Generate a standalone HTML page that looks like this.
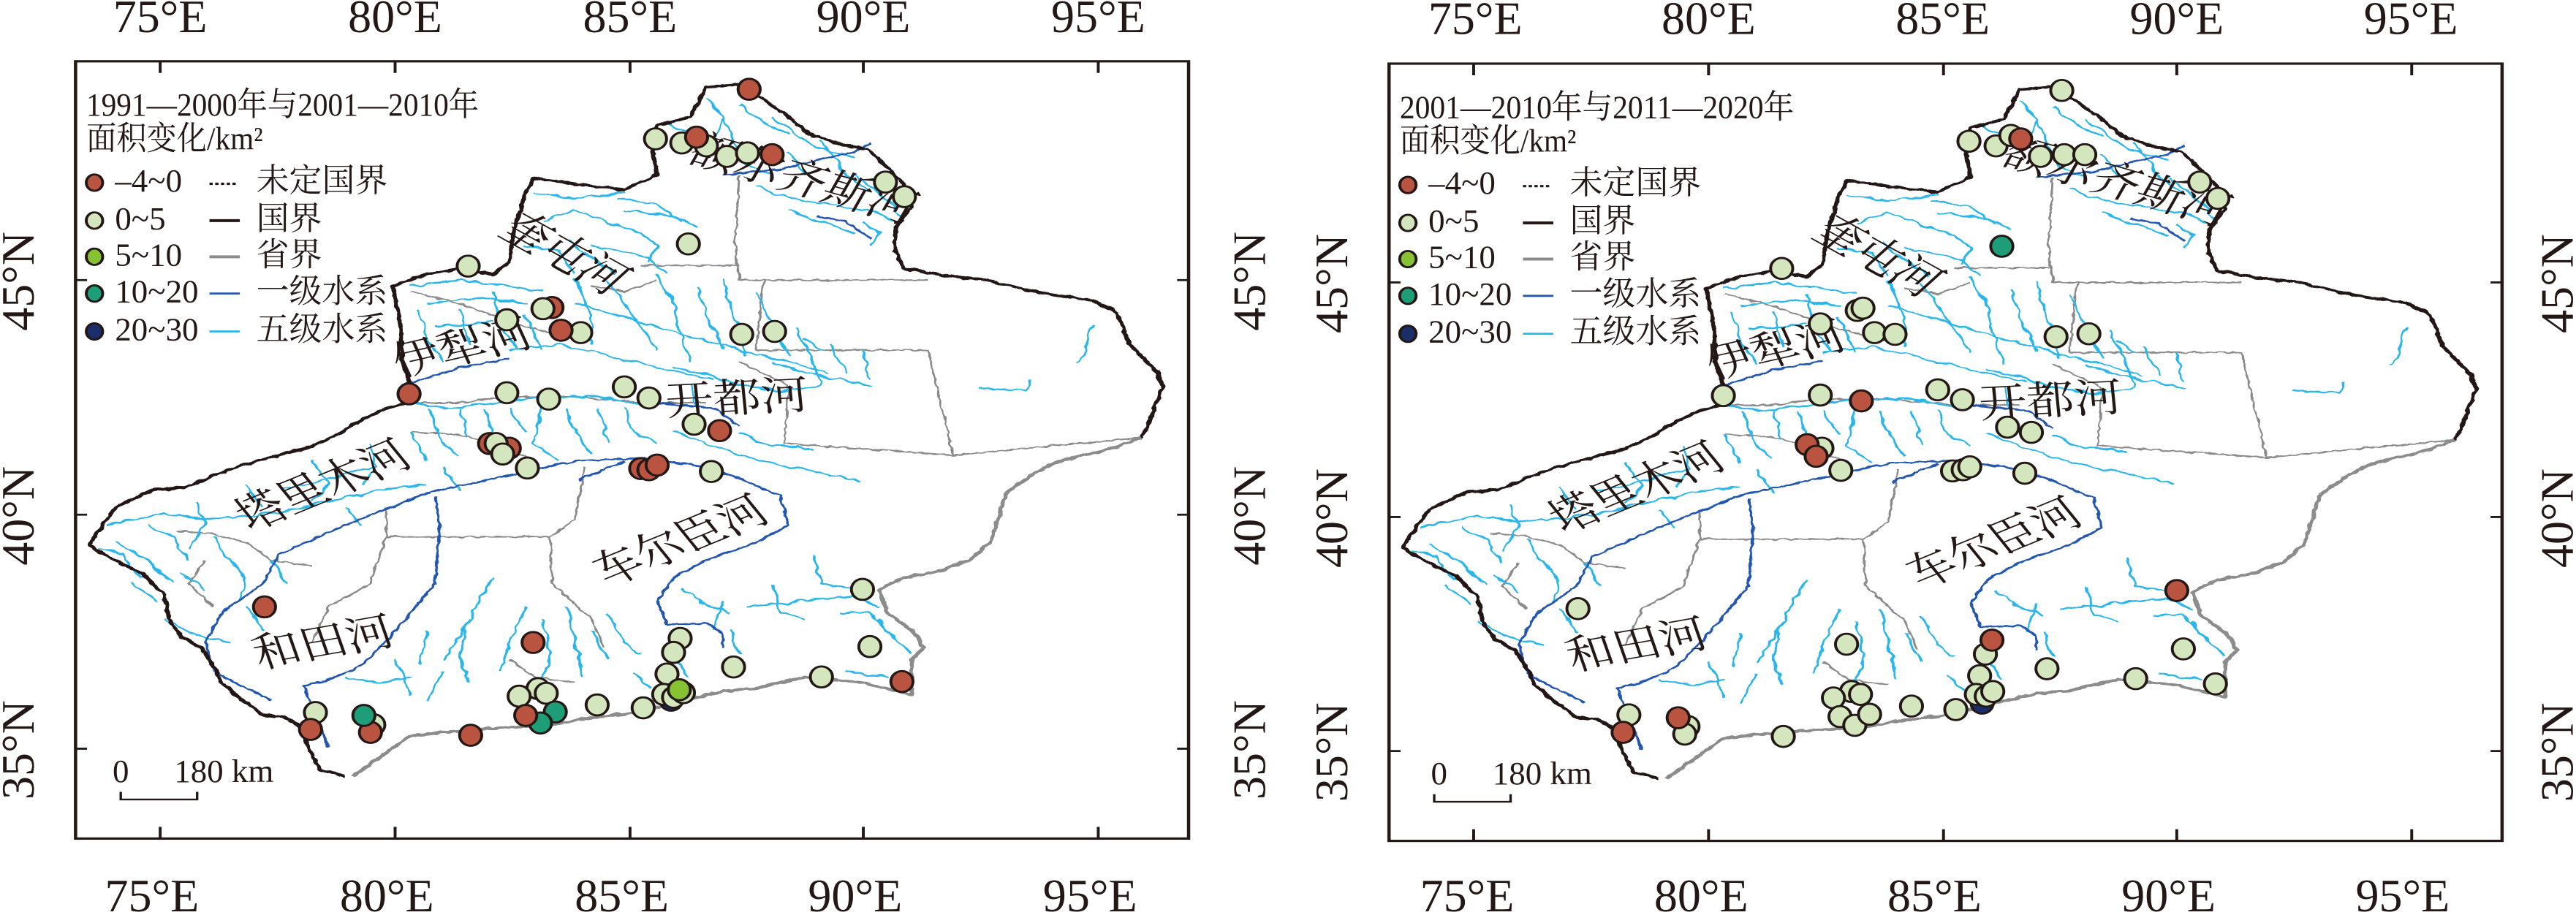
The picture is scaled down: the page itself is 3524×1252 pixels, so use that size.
<!DOCTYPE html>
<html><head><meta charset="utf-8"><style>
html,body{margin:0;padding:0;background:#fff;}
svg{display:block;}
text{font-family:"Liberation Serif","Noto Serif CJK SC",serif;fill:#231815;}
.ax{font-size:57px;}
.lg{font-size:40px;}
.rv{font-size:58px;}
</style></head><body>
<svg width="3524" height="1252" viewBox="0 0 3136 1568" preserveAspectRatio="none" xmlns="http://www.w3.org/2000/svg">
<defs>
<filter id="wig" x="-5%" y="-5%" width="110%" height="110%">
 <feTurbulence type="fractalNoise" baseFrequency="0.06" numOctaves="2" seed="3"/>
 <feDisplacementMap in="SourceGraphic" scale="10" xChannelSelector="R" yChannelSelector="G"/>
</filter>
<filter id="wig2" x="-5%" y="-5%" width="110%" height="110%">
 <feTurbulence type="fractalNoise" baseFrequency="0.09" numOctaves="2" seed="7"/>
 <feDisplacementMap in="SourceGraphic" scale="6" xChannelSelector="R" yChannelSelector="G"/>
</filter>
<g id="map">
 <!-- province / internal borders -->
 <g fill="none" stroke="#8a8a8a" stroke-width="2.5" filter="url(#wig2)">
  <path d="M900,300 L895,420 L900,480 L1130,480"/>
  <path d="M780,455 L900,455"/>
  <path d="M930,480 L920,600 L1130,600 L1160,780 L1390,750"/>
  <path d="M900,620 L960,660 L955,760 L1160,780"/>
  <path d="M470,870 L470,920 L670,920 L700,890 L712,800"/>
  <path d="M670,920 L672,1000 L720,1060 L735,1110"/>
  <path d="M500,690 L560,690 L620,680 L700,680 L780,690 L860,690"/>
  <path d="M500,740 L560,745 L600,760 L650,790"/>
  <path d="M470,920 L450,1000 L400,1040 L380,1100"/>
  <path d="M215,910 L260,915 L300,930 L330,960 L380,970"/>
  <path d="M720,490 L760,500 L800,480"/>
  <path d="M620,1130 L650,1160 L700,1170"/>
  <path d="M500,500 L560,520 L600,540 L640,560 L700,580"/>
  <path d="M250,960 L230,1000 L260,1040"/>
 </g>
 <!-- light rivers (5th level) -->
 <g fill="none" stroke="#2bb6ea" stroke-width="2.8" stroke-linejoin="round" filter="url(#wig)">
  <path d="M860,170 L880,200 L870,240"/><path d="M900,180 L930,210 L960,230"/>
  <path d="M940,200 L990,250 L1040,270"/><path d="M1000,240 L1030,300 L1060,330"/>
  <path d="M920,320 L960,340 L1010,350 L1060,360 L1090,380"/><path d="M1040,300 L1080,340 L1100,380"/>
  <path d="M810,210 L840,230"/><path d="M960,260 L980,300"/><path d="M880,200 L905,280 L940,300"/>
  <path d="M1050,380 L1070,400 L1060,420"/><path d="M960,360 L1000,380 L1040,400"/>
  <path d="M650,330 L700,340 L760,330"/><path d="M660,380 L700,360 L740,380 L780,400"/>
  <path d="M760,360 L820,370 L850,390"/><path d="M690,410 L720,440 L750,470"/>
  <path d="M720,420 L790,440 L810,470"/><path d="M750,340 L800,350 L830,380"/>
  <path d="M640,420 L680,430 L700,470"/><path d="M780,400 L800,420 L790,450"/>
  <path d="M500,490 L560,480 L620,490 L660,500"/><path d="M520,520 L580,510 L640,520"/>
  <path d="M530,560 L600,550"/><path d="M740,480 L760,520 L780,560 L800,600"/>
  <path d="M800,470 L820,520 L830,580 L840,620"/><path d="M850,490 L860,540 L880,600"/>
  <path d="M880,480 L890,530 L900,560 L910,610"/><path d="M920,500 L940,560 L960,610"/>
  <path d="M970,560 L990,620 L1000,660"/><path d="M1010,590 L1030,640"/><path d="M1050,600 L1060,650"/>
  <path d="M700,520 L750,540 L800,560 L850,580 L900,600 L960,620 L1010,640"/>
  <path d="M620,600 L680,590 L740,610 L800,630 L870,650"/>
  <path d="M510,530 L520,580 L540,620"/><path d="M560,530 L570,590"/><path d="M600,500 L610,560 L630,600"/>
  <path d="M640,540 L660,600"/><path d="M700,480 L720,540 L720,590"/>
  <path d="M940,620 L980,640 L1060,660"/><path d="M980,580 L1000,600"/>
  <path d="M1190,665 L1250,670 L1255,650"/><path d="M1330,555 L1320,610 L1310,620"/>
  <path d="M500,690 L550,700 L600,690 L660,680 L720,680 L780,690"/>
  <path d="M560,700 L570,750"/><path d="M620,700 L640,740"/><path d="M660,690 L650,760 L680,790"/>
  <path d="M730,700 L740,760"/><path d="M760,700 L770,740 L800,760"/>
  <path d="M520,700 L540,760 L560,780"/><path d="M590,700 L600,740 L590,770"/>
  <path d="M690,700 L700,740 L720,780"/><path d="M540,800 L560,840"/>
  <path d="M820,740 L860,760 L900,780 L960,800 L1050,825"/><path d="M900,740 L930,760 L990,770"/>
  <path d="M820,630 L860,640 L900,660 L950,670 L1000,660"/><path d="M840,660 L850,700"/>
  <path d="M500,740 L520,790"/><path d="M450,760 L460,800 L440,830"/><path d="M380,790 L400,830 L380,860"/>
  <path d="M300,830 L320,870"/><path d="M240,860 L250,900 L230,940"/><path d="M180,900 L210,920 L230,960"/>
  <path d="M140,930 L180,960 L210,1000"/><path d="M260,920 L280,960 L300,990 L290,1030"/>
  <path d="M220,980 L250,1010"/><path d="M200,1060 L240,1090 L280,1100"/><path d="M330,960 L350,1000"/>
  <path d="M130,900 L200,880 L260,890 L330,880 L400,860 L460,840 L520,830"/>
  <path d="M340,840 L400,820 L460,800"/><path d="M160,1000 L190,1030"/><path d="M300,1040 L320,1080"/>
  <path d="M120,940 L150,950 L170,990"/><path d="M420,870 L440,900"/>
  <path d="M600,990 L580,1040 L560,1090 L540,1130"/><path d="M640,1040 L620,1100 L610,1150"/>
  <path d="M660,1060 L670,1120 L660,1170"/><path d="M690,1040 L700,1100 L710,1160"/>
  <path d="M720,1080 L740,1130"/><path d="M740,1050 L760,1100 L780,1120"/>
  <path d="M570,1060 L560,1120 L570,1170"/><path d="M520,1080 L510,1140"/>
  <path d="M540,1150 L520,1200"/><path d="M480,1130 L500,1190"/><path d="M500,1160 L460,1170 L420,1160"/>
  <path d="M880,1030 L870,1080"/><path d="M940,1000 L950,1050 L980,1060"/>
  <path d="M990,950 L1000,1000 L1040,1010"/><path d="M1020,1050 L1060,1050 L1080,1080"/>
  <path d="M830,1010 L860,1040 L890,1050"/><path d="M1030,1150 L1080,1160"/><path d="M890,1080 L900,1120"/>
  <path d="M820,1130 L840,1160"/><path d="M770,1150 L790,1180"/>
  <path d="M910,1040 L980,1030 L1040,1020 L1070,1040"/><path d="M1070,1060 L1090,1100 L1110,1120"/>
 </g>
 <!-- first level rivers -->
 <g fill="none" stroke="#2457b0" stroke-width="3.2" stroke-linejoin="round" filter="url(#wig2)">
  <path d="M520,845 L600,820 L700,790 L780,785 L860,800 L900,820 L950,850 L960,900 L920,930 L860,960 L820,990 L800,1030 L812,1070 L860,1068 L880,1085 L880,1110"/>
  <path d="M530,850 L535,900 L530,1000 L500,1050 L470,1100 L440,1140 L400,1165 L370,1175 L385,1230 L400,1280"/>
  <path d="M520,845 L420,900 L340,950 L320,1000 L270,1050 L250,1100 L260,1150 L300,1180 L330,1200"/>
  <path d="M880,300 L950,290 L1040,260 L1060,245"/>
  <path d="M705,822 L760,790"/>
  <path d="M490,660 L560,630 L620,615"/>
  <path d="M800,690 L870,700 L900,730"/>
  <path d="M995,370 L1030,380 L1060,410"/>
 </g>
 <!-- national border black -->
 <path fill="none" stroke="#231815" stroke-width="5" stroke-linejoin="round" filter="url(#wig2)" d="M1390,750 L1400,720 L1405,700 L1415,665 L1410,640 L1375,590 L1360,535 L1330,515 L1260,500 L1200,480 L1140,470 L1100,460 L1090,430 L1090,390 L1110,355 L1100,315 L1075,280 L1055,255 L1030,250 L985,230 L960,200 L935,175 L900,145 L860,150 L840,200 L800,215 L795,260 L800,300 L760,325 L700,315 L650,305 L640,330 L625,400 L620,450 L600,470 L560,460 L520,470 L478,490 L488,560 L490,620 L500,660 L495,690 L470,700 L440,720 L410,745 L380,765 L340,780 L300,795 L260,815 L225,835 L185,840 L140,870 L108,935 L140,960 L175,985 L200,1020 L205,1060 L220,1090 L245,1110 L255,1130 L270,1170 L295,1200 L320,1225 L350,1230 L370,1250 L375,1280 L390,1320 L420,1330"/>
 <!-- province border gray (east/south) -->
 <path fill="none" stroke="#8c8c8c" stroke-width="5" stroke-linejoin="round" filter="url(#wig2)" d="M1390,750 L1350,770 L1290,790 L1260,810 L1240,830 L1225,845 L1215,890 L1205,930 L1180,960 L1140,980 L1100,990 L1070,1010 L1080,1050 L1110,1080 L1125,1110 L1110,1130 L1110,1190 L1050,1170 L980,1160 L920,1180 L880,1185 L830,1200 L780,1220 L720,1230 L680,1240 L640,1245 L580,1250 L540,1255 L500,1260 L470,1290 L430,1330"/>
 <!-- legend symbols -->
 <ellipse cx="115" cy="313" rx="10" ry="14" fill="#b85440" stroke="#231815" stroke-width="3.5"/>
 <ellipse cx="115" cy="378" rx="10" ry="14" fill="#d3e6bd" stroke="#231815" stroke-width="3.5"/>
 <ellipse cx="115" cy="440" rx="10" ry="14" fill="#86c232" stroke="#231815" stroke-width="3.5"/>
 <ellipse cx="115" cy="503" rx="10" ry="14" fill="#1e9e78" stroke="#231815" stroke-width="3.5"/>
 <ellipse cx="115" cy="568" rx="10" ry="14" fill="#1a2e6a" stroke="#231815" stroke-width="3.5"/>
 <line x1="255" y1="315" x2="290" y2="315" stroke="#231815" stroke-width="4" stroke-dasharray="4,3"/>
 <line x1="255" y1="378" x2="292" y2="378" stroke="#231815" stroke-width="5"/>
 <line x1="255" y1="440" x2="292" y2="440" stroke="#8c8c8c" stroke-width="5"/>
 <line x1="255" y1="503" x2="292" y2="503" stroke="#2457b0" stroke-width="3.5"/>
 <line x1="255" y1="568" x2="292" y2="568" stroke="#2bb6ea" stroke-width="3.5"/>
 <!-- scale bar -->
 <path d="M147,1357 L147,1370 L240,1370 L240,1357" fill="none" stroke="#231815" stroke-width="3"/>
</g>
<g id="frameL">
 <rect x="92" y="105" width="1355" height="1332" fill="none" stroke="#231815" stroke-width="4"/>
 <g stroke="#231815" stroke-width="3.5">
  <path d="M195,105v20M481,105v20M767,105v20M1051,105v20M1337,105v20"/>
  <path d="M195,1437v-20M481,1437v-20M767,1437v-20M1051,1437v-20M1337,1437v-20"/>
  <path d="M92,480h14M92,882h14M92,1283h14M1447,480h-14M1447,882h-14M1447,1283h-14"/>
 </g>
</g>
</defs>

<!-- ================= LEFT PANEL ================= -->
<g>
 <use href="#map"/>
 <use href="#frameL"/>
 <g class="ax" text-anchor="middle">
  <text transform="translate(195,55) scale(1,1.407)">75°E</text>
  <text transform="translate(481,55) scale(1,1.407)">80°E</text>
  <text transform="translate(767,55) scale(1,1.407)">85°E</text>
  <text transform="translate(1051,55) scale(1,1.407)">90°E</text>
  <text transform="translate(1337,55) scale(1,1.407)">95°E</text>
  <text transform="translate(185,1562) scale(1,1.407)">75°E</text>
  <text transform="translate(471,1562) scale(1,1.407)">80°E</text>
  <text transform="translate(757,1562) scale(1,1.407)">85°E</text>
  <text transform="translate(1041,1562) scale(1,1.407)">90°E</text>
  <text transform="translate(1327,1562) scale(1,1.407)">95°E</text>
  <text transform="translate(41,482) rotate(-90) scale(1.407,1)">45°N</text>
  <text transform="translate(41,884) rotate(-90) scale(1.407,1)">40°N</text>
  <text transform="translate(41,1285) rotate(-90) scale(1.407,1)">35°N</text>
  <text transform="translate(1540,482) rotate(-90) scale(1.407,1)">45°N</text>
  <text transform="translate(1540,884) rotate(-90) scale(1.407,1)">40°N</text>
  <text transform="translate(1540,1285) rotate(-90) scale(1.407,1)">35°N</text>
 </g>
 <g class="lg">
  <text transform="translate(105,198) scale(1,1.407)" textLength="478" lengthAdjust="spacingAndGlyphs">1991—2000年与2001—2010年</text>
  <text transform="translate(105,256) scale(1,1.407)" textLength="215" lengthAdjust="spacingAndGlyphs">面积变化/km²</text>
  <text transform="translate(140,328) scale(1,1.407)">–4~0</text>
  <text transform="translate(140,393) scale(1,1.407)">0~5</text>
  <text transform="translate(140,455) scale(1,1.407)">5~10</text>
  <text transform="translate(140,518) scale(1,1.407)">10~20</text>
  <text transform="translate(140,583) scale(1,1.407)">20~30</text>
  <text transform="translate(312,328) scale(1,1.407)">未定国界</text>
  <text transform="translate(312,393) scale(1,1.407)">国界</text>
  <text transform="translate(312,455) scale(1,1.407)">省界</text>
  <text transform="translate(312,518) scale(1,1.407)">一级水系</text>
  <text transform="translate(312,583) scale(1,1.407)">五级水系</text>
  <text transform="translate(137,1340) scale(1,1.407)">0</text>
  <text transform="translate(212,1340) scale(1,1.407)">180 km</text>
 </g>
 <g class="rv">
  <text transform="translate(835,275) rotate(22) scale(1,1.2)">额尔齐斯河</text>
  <text transform="translate(605,400) rotate(38) scale(1,1.2)">奎屯河</text>
  <text transform="translate(487,645) rotate(-18) scale(1,1.2)">伊犁河</text>
  <text transform="translate(812,712) rotate(-4) scale(1,1.2)">开都河</text>
  <text transform="translate(305,910) rotate(-30) scale(1,1.2)">塔里木河</text>
  <text transform="translate(740,1005) rotate(-30) scale(1,1.2)">车尔臣河</text>
  <text transform="translate(315,1145) rotate(-14) scale(1,1.2)">和田河</text>
 </g>
 <g stroke="#231815" stroke-width="3.5">
  <g fill="#d3e6bd">
   <ellipse cx="798" cy="238" rx="13.5" ry="18"/><ellipse cx="830" cy="245" rx="13.5" ry="18"/><ellipse cx="860" cy="250" rx="13.5" ry="18"/><ellipse cx="885" cy="268" rx="13.5" ry="18"/><ellipse cx="910" cy="262" rx="13.5" ry="18"/><ellipse cx="1078" cy="312" rx="13.5" ry="18"/><ellipse cx="1101" cy="337" rx="13.5" ry="18"/><ellipse cx="838" cy="418" rx="13.5" ry="18"/><ellipse cx="570" cy="456" rx="13.5" ry="18"/>
  </g>
  <g fill="#b85440">
   <ellipse cx="912" cy="153" rx="13.5" ry="18"/><ellipse cx="848" cy="235" rx="13.5" ry="18"/><ellipse cx="940" cy="265" rx="13.5" ry="18"/><ellipse cx="672" cy="527" rx="13.5" ry="18"/>
  </g>
  <g fill="#d3e6bd">
   <ellipse cx="661" cy="529" rx="13.5" ry="18"/><ellipse cx="617" cy="548" rx="13.5" ry="18"/><ellipse cx="707" cy="570" rx="13.5" ry="18"/><ellipse cx="903" cy="573" rx="13.5" ry="18"/><ellipse cx="943" cy="568" rx="13.5" ry="18"/><ellipse cx="617" cy="673" rx="13.5" ry="18"/><ellipse cx="668" cy="684" rx="13.5" ry="18"/><ellipse cx="760" cy="663" rx="13.5" ry="18"/><ellipse cx="790" cy="682" rx="13.5" ry="18"/><ellipse cx="845" cy="727" rx="13.5" ry="18"/>
  </g>
  <g fill="#b85440">
   <ellipse cx="683" cy="566" rx="13.5" ry="18"/><ellipse cx="498" cy="675" rx="13.5" ry="18"/><ellipse cx="876" cy="738" rx="13.5" ry="18"/><ellipse cx="596" cy="760" rx="13.5" ry="18"/><ellipse cx="620" cy="768" rx="13.5" ry="18"/><ellipse cx="780" cy="803" rx="13.5" ry="18"/><ellipse cx="790" cy="805" rx="13.5" ry="18"/><ellipse cx="800" cy="797" rx="13.5" ry="18"/>
  </g>
  <g fill="#d3e6bd">
   <ellipse cx="604" cy="760" rx="13.5" ry="18"/><ellipse cx="612" cy="778" rx="13.5" ry="18"/><ellipse cx="642" cy="802" rx="13.5" ry="18"/><ellipse cx="866" cy="808" rx="13.5" ry="18"/><ellipse cx="1050" cy="1010" rx="13.5" ry="18"/><ellipse cx="828" cy="1094" rx="13.5" ry="18"/><ellipse cx="820" cy="1118" rx="13.5" ry="18"/><ellipse cx="893" cy="1143" rx="13.5" ry="18"/><ellipse cx="1000" cy="1160" rx="13.5" ry="18"/><ellipse cx="1059" cy="1108" rx="13.5" ry="18"/><ellipse cx="812" cy="1155" rx="13.5" ry="18"/><ellipse cx="655" cy="1180" rx="13.5" ry="18"/><ellipse cx="665" cy="1188" rx="13.5" ry="18"/><ellipse cx="632" cy="1193" rx="13.5" ry="18"/><ellipse cx="727" cy="1208" rx="13.5" ry="18"/><ellipse cx="783" cy="1213" rx="13.5" ry="18"/><ellipse cx="384" cy="1221" rx="13.5" ry="18"/><ellipse cx="455" cy="1242" rx="13.5" ry="18"/>
  </g>
  <ellipse cx="817" cy="1200" rx="13.5" ry="18" fill="#1a2e6a"/>
  <g fill="#d3e6bd"><ellipse cx="808" cy="1190" rx="13.5" ry="18"/><ellipse cx="820" cy="1195" rx="13.5" ry="18"/><ellipse cx="832" cy="1187" rx="13.5" ry="18"/></g>
  <ellipse cx="827" cy="1182" rx="13.5" ry="18" fill="#86c232"/>
  <g fill="#b85440"><ellipse cx="322" cy="1040" rx="13.5" ry="18"/><ellipse cx="649" cy="1101" rx="13.5" ry="18"/><ellipse cx="1098" cy="1168" rx="13.5" ry="18"/><ellipse cx="378" cy="1250" rx="13.5" ry="18"/><ellipse cx="451" cy="1255" rx="13.5" ry="18"/><ellipse cx="573" cy="1260" rx="13.5" ry="18"/></g>
  <g fill="#1e9e78"><ellipse cx="443" cy="1226" rx="13.5" ry="18"/><ellipse cx="676" cy="1220" rx="13.5" ry="18"/><ellipse cx="658" cy="1239" rx="13.5" ry="18"/></g>
  <ellipse cx="640" cy="1226" rx="13.5" ry="18" fill="#b85440"/>
 </g>
</g>

<!-- ================= RIGHT PANEL ================= -->
<g transform="translate(1568,0)">
 <use href="#map" transform="translate(31,4)"/>
 <use href="#frameL" transform="translate(31,4)"/>
 <g class="ax" text-anchor="middle">
  <text transform="translate(228,58) scale(1,1.407)">75°E</text>
  <text transform="translate(512,58) scale(1,1.407)">80°E</text>
  <text transform="translate(797,58) scale(1,1.407)">85°E</text>
  <text transform="translate(1082,58) scale(1,1.407)">90°E</text>
  <text transform="translate(1367,58) scale(1,1.407)">95°E</text>
  <text transform="translate(218,1562) scale(1,1.407)">75°E</text>
  <text transform="translate(503,1562) scale(1,1.407)">80°E</text>
  <text transform="translate(787,1562) scale(1,1.407)">85°E</text>
  <text transform="translate(1072,1562) scale(1,1.407)">90°E</text>
  <text transform="translate(1357,1562) scale(1,1.407)">95°E</text>
  <text transform="translate(72,486) rotate(-90) scale(1.407,1)">45°N</text>
  <text transform="translate(72,888) rotate(-90) scale(1.407,1)">40°N</text>
  <text transform="translate(72,1289) rotate(-90) scale(1.407,1)">35°N</text>
  <text transform="translate(1564,486) rotate(-90) scale(1.407,1)">45°N</text>
  <text transform="translate(1564,888) rotate(-90) scale(1.407,1)">40°N</text>
  <text transform="translate(1564,1289) rotate(-90) scale(1.407,1)">35°N</text>
 </g>
 <g class="lg" transform="translate(31,4)">
  <text transform="translate(105,198) scale(1,1.407)" textLength="480" lengthAdjust="spacingAndGlyphs">2001—2010年与2011—2020年</text>
  <text transform="translate(105,256) scale(1,1.407)" textLength="215" lengthAdjust="spacingAndGlyphs">面积变化/km²</text>
  <text transform="translate(140,328) scale(1,1.407)">–4~0</text>
  <text transform="translate(140,393) scale(1,1.407)">0~5</text>
  <text transform="translate(140,455) scale(1,1.407)">5~10</text>
  <text transform="translate(140,518) scale(1,1.407)">10~20</text>
  <text transform="translate(140,583) scale(1,1.407)">20~30</text>
  <text transform="translate(312,328) scale(1,1.407)">未定国界</text>
  <text transform="translate(312,393) scale(1,1.407)">国界</text>
  <text transform="translate(312,455) scale(1,1.407)">省界</text>
  <text transform="translate(312,518) scale(1,1.407)">一级水系</text>
  <text transform="translate(312,583) scale(1,1.407)">五级水系</text>
  <text transform="translate(143,1340) scale(1,1.407)">0</text>
  <text transform="translate(218,1340) scale(1,1.407)">180 km</text>
 </g>
 <g class="rv" transform="translate(31,4)">
  <text transform="translate(835,275) rotate(22) scale(1,1.2)">额尔齐斯河</text>
  <text transform="translate(605,400) rotate(38) scale(1,1.2)">奎屯河</text>
  <text transform="translate(487,645) rotate(-18) scale(1,1.2)">伊犁河</text>
  <text transform="translate(812,712) rotate(-4) scale(1,1.2)">开都河</text>
  <text transform="translate(305,910) rotate(-30) scale(1,1.2)">塔里木河</text>
  <text transform="translate(740,1005) rotate(-30) scale(1,1.2)">车尔臣河</text>
  <text transform="translate(315,1145) rotate(-14) scale(1,1.2)">和田河</text>
 </g>
 <g stroke="#231815" stroke-width="3.5">
  <g fill="#d3e6bd">
   <ellipse cx="942" cy="155" rx="13.5" ry="18"/><ellipse cx="829" cy="242" rx="13.5" ry="18"/><ellipse cx="862" cy="250" rx="13.5" ry="18"/><ellipse cx="880" cy="232" rx="13.5" ry="18"/>
  </g>
  <ellipse cx="892" cy="238" rx="13.5" ry="18" fill="#b85440"/>
  <g fill="#d3e6bd">
   <ellipse cx="916" cy="268" rx="13.5" ry="18"/><ellipse cx="945" cy="265" rx="13.5" ry="18"/><ellipse cx="970" cy="265" rx="13.5" ry="18"/><ellipse cx="1110" cy="312" rx="13.5" ry="18"/><ellipse cx="1132" cy="340" rx="13.5" ry="18"/><ellipse cx="601" cy="460" rx="13.5" ry="18"/><ellipse cx="693" cy="532" rx="13.5" ry="18"/><ellipse cx="700" cy="528" rx="13.5" ry="18"/><ellipse cx="648" cy="555" rx="13.5" ry="18"/><ellipse cx="714" cy="570" rx="13.5" ry="18"/><ellipse cx="739" cy="573" rx="13.5" ry="18"/><ellipse cx="935" cy="577" rx="13.5" ry="18"/><ellipse cx="975" cy="572" rx="13.5" ry="18"/><ellipse cx="530" cy="678" rx="13.5" ry="18"/><ellipse cx="648" cy="677" rx="13.5" ry="18"/><ellipse cx="791" cy="668" rx="13.5" ry="18"/><ellipse cx="821" cy="685" rx="13.5" ry="18"/><ellipse cx="876" cy="732" rx="13.5" ry="18"/><ellipse cx="905" cy="741" rx="13.5" ry="18"/><ellipse cx="650" cy="768" rx="13.5" ry="18"/><ellipse cx="673" cy="806" rx="13.5" ry="18"/><ellipse cx="809" cy="807" rx="13.5" ry="18"/><ellipse cx="822" cy="805" rx="13.5" ry="18"/><ellipse cx="830" cy="800" rx="13.5" ry="18"/><ellipse cx="897" cy="811" rx="13.5" ry="18"/><ellipse cx="353" cy="1043" rx="13.5" ry="18"/><ellipse cx="680" cy="1104" rx="13.5" ry="18"/><ellipse cx="849" cy="1121" rx="13.5" ry="18"/><ellipse cx="1090" cy="1112" rx="13.5" ry="18"/><ellipse cx="924" cy="1146" rx="13.5" ry="18"/><ellipse cx="1032" cy="1163" rx="13.5" ry="18"/><ellipse cx="1129" cy="1172" rx="13.5" ry="18"/><ellipse cx="842" cy="1158" rx="13.5" ry="18"/>
  </g>
  <ellipse cx="845" cy="1205" rx="13.5" ry="18" fill="#1a2e6a"/>
  <g fill="#d3e6bd">
   <ellipse cx="838" cy="1190" rx="13.5" ry="18"/><ellipse cx="850" cy="1193" rx="13.5" ry="18"/><ellipse cx="858" cy="1185" rx="13.5" ry="18"/><ellipse cx="686" cy="1185" rx="13.5" ry="18"/><ellipse cx="697" cy="1190" rx="13.5" ry="18"/><ellipse cx="664" cy="1196" rx="13.5" ry="18"/><ellipse cx="672" cy="1228" rx="13.5" ry="18"/><ellipse cx="690" cy="1243" rx="13.5" ry="18"/><ellipse cx="708" cy="1224" rx="13.5" ry="18"/><ellipse cx="759" cy="1210" rx="13.5" ry="18"/><ellipse cx="813" cy="1216" rx="13.5" ry="18"/><ellipse cx="415" cy="1225" rx="13.5" ry="18"/><ellipse cx="487" cy="1245" rx="13.5" ry="18"/><ellipse cx="483" cy="1258" rx="13.5" ry="18"/><ellipse cx="603" cy="1262" rx="13.5" ry="18"/>
  </g>
  <g fill="#b85440">
   <ellipse cx="698" cy="687" rx="13.5" ry="18"/><ellipse cx="632" cy="762" rx="13.5" ry="18"/><ellipse cx="643" cy="782" rx="13.5" ry="18"/><ellipse cx="1082" cy="1012" rx="13.5" ry="18"/><ellipse cx="857" cy="1097" rx="13.5" ry="18"/><ellipse cx="475" cy="1230" rx="13.5" ry="18"/><ellipse cx="408" cy="1255" rx="13.5" ry="18"/>
  </g>
  <ellipse cx="869" cy="422" rx="13.5" ry="18" fill="#1e9e78"/>
 </g>
</g>
</svg>
</body></html>
